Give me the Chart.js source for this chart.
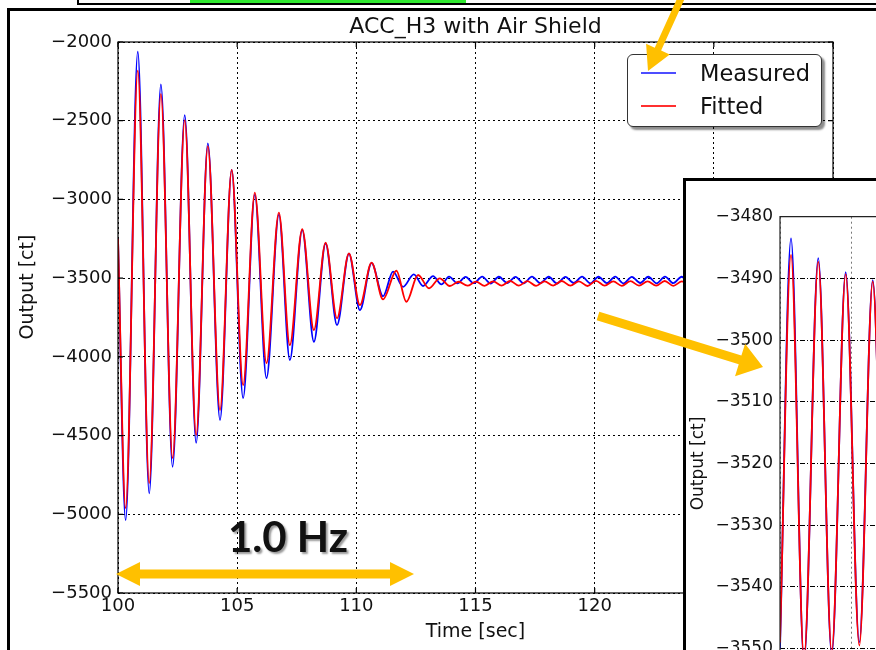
<!DOCTYPE html>
<html>
<head>
<meta charset="utf-8">
<title>ACC_H3 with Air Shield</title>
<script src="https://cdn.jsdelivr.net/npm/chart.js@4.4.1/dist/chart.umd.min.js"></script>
<style>
  html, body { margin: 0; padding: 0; background: #fff; }
  #page { position: relative; width: 876px; height: 650px; overflow: hidden; background: #fff; font-family: "DejaVu Sans", sans-serif; }
  #strip { position: absolute; left: 78px; top: 3px; width: 800px; height: 2px; background: #000; }
  #stripEdge { position: absolute; left: 77px; top: 0; width: 2px; height: 5px; background: #000; }
  #stripGreen { position: absolute; left: 190px; top: 0; width: 276px; height: 3px; background: #30e830; }
  #frame { position: absolute; left: 7px; top: 8px; width: 900px; height: 700px; border-left: 3px solid #000; border-top: 3px solid #000; }
  #mainChart { position: absolute; left: 0; top: 0; }
  #legend { position: absolute; left: 627px; top: 54px; width: 193px; height: 71px; border: 1.5px solid #333; border-radius: 6px; background: #fff; box-shadow: 3px 3px 2px rgba(0,0,0,0.45); }
  #legend .row { position: absolute; left: 0; height: 26px; line-height: 26px; font-size: 22.5px; color: #111; }
  #legend .swatch { position: absolute; left: 13px; top: 12px; width: 35px; height: 2px; }
  #legend .label { position: absolute; left: 72px; top: 0; white-space: nowrap; }
  #inset { position: absolute; left: 683px; top: 178px; width: 257px; height: 600px; border-left: 3px solid #000; border-top: 3px solid #000; background: #fff; }
  #insetChart { position: absolute; left: 0; top: 0; }
  #arrows { position: absolute; left: 0; top: 0; pointer-events: none; }
  #hz { position: absolute; left: 188px; top: 515px; width: 200px; text-align: center; font-family: Lato, "Open Sans", sans-serif; font-weight: 700; font-size: 42px; line-height: 42px; color: #111; text-shadow: 2px 2px 2px rgba(0,0,0,0.4); }
</style>
</head>
<body>
<div id="page">
  <div id="stripGreen"></div>
  <div id="strip"></div>
  <div id="stripEdge"></div>
  <div id="frame"></div>
  <canvas id="mainChart" width="876" height="650"></canvas>
  <div id="legend"></div>
  <div id="inset"><canvas id="insetChart" width="257" height="600"></canvas></div>
  <canvas id="arrows" width="876" height="650"></canvas>
  <div id="hz">1.0 Hz</div>
</div>
<script>
// main plot: extrema (time in sec, output in ct)
var measuredTime = [100.00, 100.32, 100.83, 101.31, 101.80, 102.29, 102.80, 103.28, 103.77, 104.28,
  104.77, 105.25, 105.74, 106.23, 106.75, 107.21, 107.73, 108.22, 108.71, 109.19,
  109.69, 110.15, 110.64, 111.12, 111.54, 111.96, 112.41, 112.80, 113.22, 113.57,
  113.89, 114.24, 114.58, 114.93, 115.28, 115.63, 115.98, 116.33, 116.68, 117.02,
  117.37, 117.72, 118.07, 118.42, 118.77, 119.12, 119.47, 119.82, 120.16, 120.51,
  120.86, 121.21, 121.56, 121.91, 122.25, 122.60, 122.95, 123.30, 123.65, 124.00, 124.35];
var measuredOutput = [-3250, -5037, -2062, -4867, -2269, -4698, -2464, -4546, -2644, -4401,
  -2813, -4262, -2970, -4135, -3097, -4020, -3195, -3904, -3280, -3798,
  -3345, -3703, -3405, -3615, -3459, -3555, -3476, -3550, -3487, -3540,
  -3490, -3533, -3492, -3532, -3490, -3534, -3491, -3531, -3492, -3533,
  -3490, -3532, -3491, -3534, -3492, -3531, -3490, -3533, -3491, -3532,
  -3490, -3534, -3492, -3531, -3491, -3533, -3490, -3532, -3491, -3533, -3490];

var fittedTime = [100.00, 100.32, 100.83, 101.31, 101.80, 102.29, 102.80, 103.28, 103.77, 104.28,
  104.77, 105.25, 105.74, 106.23, 106.75, 107.21, 107.73, 108.22, 108.71, 109.19,
  109.69, 110.15, 110.64, 111.12, 111.68, 112.10, 112.59, 113.05, 113.50, 113.92,
  114.30, 114.66, 115.02, 115.38, 115.74, 116.10, 116.46, 116.82, 117.18, 117.54,
  117.90, 118.26, 118.62, 118.98, 119.34, 119.70, 120.06, 120.42, 120.78, 121.14,
  121.50, 121.86, 122.22, 122.58, 122.94, 123.30, 123.66, 124.02, 124.38];
var fittedOutput = [-3250, -4961, -2182, -4802, -2330, -4643, -2496, -4497, -2661, -4338,
  -2813, -4179, -2957, -4040, -3084, -3925, -3188, -3830, -3275, -3755,
  -3343, -3671, -3402, -3635, -3453, -3650, -3480, -3565, -3501, -3550,
  -3523, -3548, -3522, -3549, -3520, -3547, -3518, -3548, -3519, -3549,
  -3521, -3547, -3518, -3548, -3520, -3550, -3517, -3548, -3521, -3549,
  -3519, -3547, -3520, -3548, -3518, -3549, -3521, -3548, -3519];

var timeTicks = [100, 105, 110, 115, 120, 125, 130];
var outputTicks = [-2000, -2500, -3000, -3500, -4000, -4500, -5000, -5500];

// zoomed inset
var insetTime = [0, 0.155, 0.338, 0.539, 0.728, 0.925, 1.117, 1.306, 1.50, 1.69, 1.88];
var insetMeasured = [-3550, -3483.5, -3552, -3486.7, -3551, -3489, -3549, -3490.3, -3549, -3491, -3548];
var insetFitted = [-3549, -3486.2, -3551.5, -3487.3, -3550.5, -3489.3, -3549.5, -3490.5, -3549, -3491, -3548];
var insetTimeTicks = [0, 1, 2];
var insetOutputTicks = [-3480, -3490, -3500, -3510, -3520, -3530, -3540, -3550, -3560];

var FONT = '"DejaVu Sans", sans-serif';

function pts(xs, ys) {
  return xs.map(function(x, i) { return {x: x, y: ys[i]}; });
}
function minus(v) {
  return String(v).replace('-', '\u2212');
}
function fixTicks(list) {
  return function(scale) { scale.ticks = list.map(function(v) { return {value: v}; }); };
}

// box round the axes, inward ticks, title and y label
var mainDecor = {
  id: 'mainDecor',
  afterDraw: function(chart) {
    var ctx = chart.ctx, a = chart.chartArea;
    var x = chart.scales.x, y = chart.scales.y;
    ctx.save();
    ctx.strokeStyle = '#000';
    ctx.lineWidth = 1.2;
    ctx.strokeRect(a.left, a.top, a.right - a.left, a.bottom - a.top);
    ctx.beginPath();
    timeTicks.forEach(function(v) {
      var px = x.getPixelForValue(v);
      ctx.moveTo(px, a.bottom); ctx.lineTo(px, a.bottom - 5);
      ctx.moveTo(px, a.top); ctx.lineTo(px, a.top + 5);
    });
    outputTicks.forEach(function(v) {
      var py = y.getPixelForValue(v);
      ctx.moveTo(a.left, py); ctx.lineTo(a.left + 5, py);
      ctx.moveTo(a.right, py); ctx.lineTo(a.right - 5, py);
    });
    ctx.stroke();

    ctx.fillStyle = '#111';
    ctx.font = '22px ' + FONT;
    ctx.textAlign = 'center';
    ctx.textBaseline = 'alphabetic';
    ctx.fillText('ACC_H3 with Air Shield', (a.left + a.right) / 2, 33);

    ctx.translate(28, 287);
    ctx.rotate(-Math.PI / 2);
    ctx.font = '19px ' + FONT;
    ctx.textBaseline = 'middle';
    ctx.fillText('Output [ct]', 0, 0);
    ctx.restore();
  }
};

var mainChart = new Chart(document.getElementById('mainChart'), {
  type: 'line',
  data: {
    datasets: [
      {label: 'Measured', data: pts(measuredTime, measuredOutput), borderColor: '#0000ff',
        borderWidth: 1.8, pointRadius: 0, cubicInterpolationMode: 'monotone', order: 1},
      {label: 'Fitted', data: pts(fittedTime, fittedOutput), borderColor: '#ff0000',
        borderWidth: 1.8, pointRadius: 0, cubicInterpolationMode: 'monotone', order: 0}
    ]
  },
  options: {
    responsive: false,
    animation: false,
    layout: {padding: {top: 42, right: 43, left: 0, bottom: 0}},
    plugins: {legend: {display: false}, tooltip: {enabled: false}},
    scales: {
      x: {
        type: 'linear', min: 100, max: 130,
        afterBuildTicks: fixTicks(timeTicks),
        afterFit: function(s) { s.height = 57; },
        grid: {color: '#000', lineWidth: 1, drawTicks: false},
        border: {display: false, dash: [2, 3]},
        ticks: {padding: 3, color: '#111', font: {family: FONT, size: 18}, maxRotation: 0, autoSkip: false, callback: minus},
        title: {display: true, text: 'Time [sec]', color: '#111', font: {family: FONT, size: 19}, padding: {top: 0, bottom: 7}}
      },
      y: {
        type: 'linear', min: -5500, max: -2000,
        afterBuildTicks: fixTicks(outputTicks),
        afterFit: function(s) { s.width = 118; },
        grid: {color: '#000', lineWidth: 1, drawTicks: false},
        border: {display: false, dash: [2, 3]},
        ticks: {padding: 6, color: '#111', font: {family: FONT, size: 18}, autoSkip: false, callback: minus}
      }
    }
  },
  plugins: [mainDecor]
});

// legend built from the chart's datasets
var legend = document.getElementById('legend');
var legendColors = ['#4d4dff', '#ff3030'];
mainChart.data.datasets.forEach(function(ds, i) {
  var row = document.createElement('div');
  row.className = 'row';
  row.style.top = (5 + i * 32.5) + 'px';
  row.style.width = '190px';
  var sw = document.createElement('div');
  sw.className = 'swatch';
  sw.style.backgroundColor = legendColors[i];
  var lb = document.createElement('span');
  lb.className = 'label';
  lb.textContent = ds.label;
  row.appendChild(sw);
  row.appendChild(lb);
  legend.appendChild(row);
});

var insetFrame = {
  id: 'insetFrame',
  afterDraw: function(chart) {
    var ctx = chart.ctx, a = chart.chartArea;
    ctx.save();
    ctx.strokeStyle = '#222';
    ctx.lineWidth = 1.2;
    ctx.beginPath();
    ctx.moveTo(a.left, a.bottom); ctx.lineTo(a.left, a.top); ctx.lineTo(a.right, a.top);
    ctx.stroke();
    ctx.restore();
  }
};

new Chart(document.getElementById('insetChart'), {
  type: 'line',
  data: {
    datasets: [
      {label: 'Measured', data: pts(insetTime, insetMeasured), borderColor: '#0000ff',
        borderWidth: 1.8, pointRadius: 0, cubicInterpolationMode: 'monotone', order: 1},
      {label: 'Fitted', data: pts(insetTime, insetFitted), borderColor: '#ff0000',
        borderWidth: 1.8, pointRadius: 0, cubicInterpolationMode: 'monotone', order: 0}
    ]
  },
  options: {
    responsive: false,
    animation: false,
    layout: {padding: {top: 35.7, right: 21, left: 0, bottom: 0}},
    plugins: {legend: {display: false}, tooltip: {enabled: false}},
    scales: {
      x: {
        type: 'linear', min: 0, max: 2,
        afterBuildTicks: fixTicks(insetTimeTicks),
        afterFit: function(s) { s.height = 70.7; },
        grid: {color: '#777', lineWidth: 1, drawTicks: false},
        border: {display: false, dash: [2, 3]},
        ticks: {display: false}
      },
      y: {
        type: 'linear', min: -3560, max: -3480,
        afterBuildTicks: fixTicks(insetOutputTicks),
        afterFit: function(s) { s.width = 94; },
        grid: {color: '#000', lineWidth: 1, drawTicks: false},
        border: {display: false, dash: [5, 2, 1, 2]},
        ticks: {padding: 7, color: '#111', font: {family: FONT, size: 17}, autoSkip: false, callback: minus},
        title: {display: true, text: 'Output [ct]', color: '#111', font: {family: FONT, size: 17}, padding: {top: 2, bottom: 0}}
      }
    }
  },
  plugins: [insetFrame]
});

// orange call-out arrows
var actx = document.getElementById('arrows').getContext('2d');
function arrow(x1, y1, x2, y2, shaft, headLen, headW, both) {
  var dx = x2 - x1, dy = y2 - y1, len = Math.sqrt(dx * dx + dy * dy);
  var ux = dx / len, uy = dy / len, nx = -uy, ny = ux;
  var s = shaft / 2, h = headW / 2;
  var p = [];
  function at(d, off) { p.push([x1 + ux * d + nx * off, y1 + uy * d + ny * off]); }
  if (both) {
    at(0, 0); at(headLen, h); at(headLen, s);
  } else {
    at(0, s);
  }
  at(len - headLen, s); at(len - headLen, h); at(len, 0); at(len - headLen, -h); at(len - headLen, -s);
  if (both) {
    at(headLen, -s); at(headLen, -h);
  } else {
    at(0, -s);
  }
  actx.beginPath();
  actx.moveTo(p[0][0], p[0][1]);
  for (var i = 1; i < p.length; i++) actx.lineTo(p[i][0], p[i][1]);
  actx.closePath();
  actx.fillStyle = '#ffc000';
  actx.fill();
}
arrow(683, -6, 648, 71, 7, 24, 26, false);
arrow(598, 316, 763, 367, 9, 24, 34, false);
arrow(116, 574, 414, 574, 9, 24, 24, true);
</script>
</body>
</html>
